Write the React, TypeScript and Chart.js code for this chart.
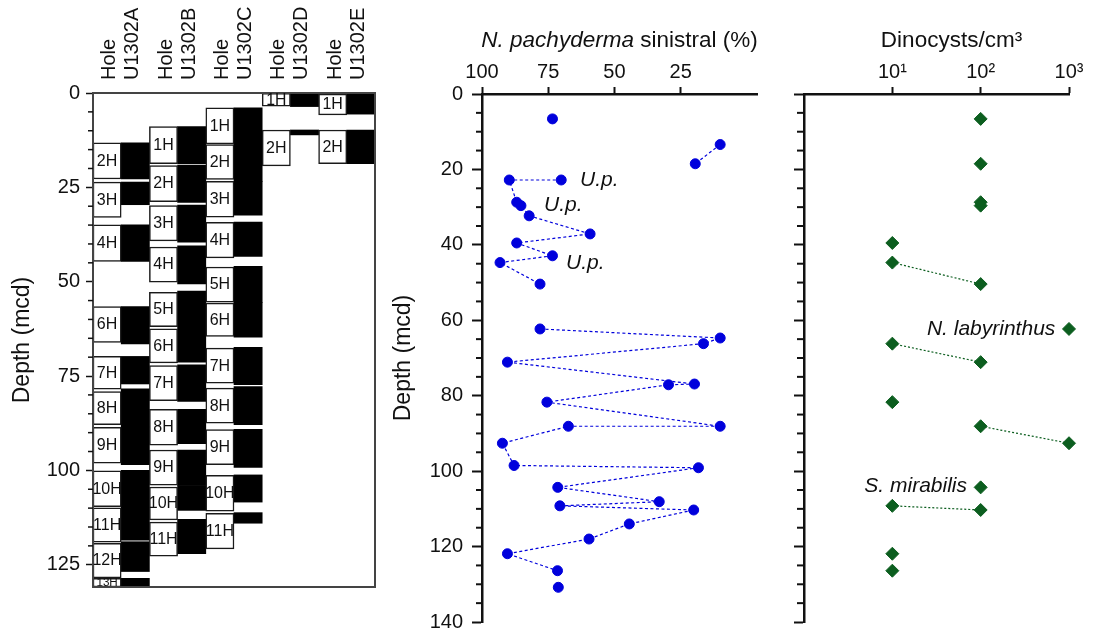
import React, { useEffect, useRef } from 'react';
import { Chart, registerables } from 'chart.js';

Chart.register(...registerables);

const FONT = "'Liberation Sans', Arial, Helvetica, sans-serif";
const INK = '#111111';
const BLUE = '#0000dc';
const GREEN = '#0c5e1f';
const CLEAR = 'rgba(0,0,0,0)';

Chart.defaults.font.family = FONT;
Chart.defaults.color = INK;

// ---------------- Left panel: cored intervals (white) and recovery (black) ----------------
const holeNames = ['U1302A', 'U1302B', 'U1302C', 'U1302D', 'U1302E'];

const coresA = ['2H', '3H', '4H', '6H', '7H', '8H', '9H', '10H', '11H', '12H', '13H'];
const coredTopA = [13.2, 23.6, 34.9, 56.6, 69.8, 79.1, 88.6, 100.1, 109.9, 119.3, 128.6];
const coredBaseA = [22.8, 33.0, 44.6, 66.1, 78.5, 87.9, 98.1, 109.6, 119.0, 128.5, 130.9];
const recTopA = [13.2, 23.6, 34.9, 56.6, 69.8, 78.4, 88.5, 100.0, 109.8, 118.9, 128.6];
const recBaseA = [22.8, 29.6, 44.6, 66.5, 77.1, 88.5, 98.5, 109.8, 118.5, 126.8, 130.9];

const coresB = ['1H', '2H', '3H', '4H', '5H', '6H', '7H', '8H', '9H', '10H', '11H'];
const coredTopB = [8.9, 19.2, 29.8, 40.8, 52.8, 62.5, 72.2, 83.8, 94.6, 104.4, 113.7];
const coredBaseB = [18.7, 28.8, 39.2, 50.1, 61.9, 71.5, 81.5, 93.3, 103.9, 113.1, 122.7];
const recTopB = [8.9, 19.1, 29.7, 40.5, 52.5, 61.7, 72.0, 83.8, 94.6, 104.0, 113.0];
const recBaseB = [18.7, 29.0, 39.5, 50.6, 61.7, 71.3, 81.7, 92.9, 104.0, 110.6, 122.1];

const coresC = ['1H', '2H', '3H', '4H', '5H', '6H', '7H', '8H', '9H', '10H', '11H'];
const coredTopC = [3.9, 13.7, 23.4, 34.3, 46.1, 55.7, 67.6, 78.2, 89.2, 101.3, 111.4];
const coredBaseC = [13.5, 22.9, 32.9, 43.7, 55.4, 64.5, 76.9, 87.5, 98.5, 110.8, 120.8];
const recTopC = [3.9, 13.7, 23.4, 34.2, 45.9, 55.5, 67.4, 77.8, 89.1, 101.2, 111.2];
const recBaseC = [13.7, 23.4, 32.4, 43.3, 55.5, 64.7, 77.3, 87.9, 99.2, 108.4, 114.0];

const coresD = ['1H', '2H'];
const coredTopD = [0.1, 9.8];
const coredBaseD = [3.5, 19.3];
const recTopD = [0.0, 9.8];
const recBaseD = [3.6, 11.1];

const coresE = ['1H', '2H'];
const coredTopE = [0.3, 9.8];
const coredBaseE = [5.8, 18.7];
const recTopE = [0.0, 9.8];
const recBaseE = [5.6, 18.7];

const leftDepthMax = 130.9;

// ---------------- Middle panel: N. pachyderma sinistral (%) ----------------
const npDepth = [6.6, 13.4, 18.5, 22.8, 22.8, 28.7, 29.6, 32.3, 37.1, 39.5, 42.9, 44.7, 50.4,
  62.3, 64.7, 66.2, 71.1, 76.9, 77.1, 81.7, 88.1, 88.1, 92.6, 98.5, 99.1, 104.3, 108.1, 109.2,
  110.3, 114.0, 118.0, 121.9, 126.4, 130.8];
const npPercent = [73.4, 10.1, 19.5, 70.1, 89.7, 86.9, 85.3, 82.2, 59.2, 86.9, 73.4, 93.2, 78.1,
  78.1, 10.1, 16.4, 90.4, 19.8, 29.6, 75.5, 10.1, 67.4, 92.3, 87.9, 18.3, 71.4, 33.1, 70.6,
  20.1, 44.4, 59.6, 90.4, 71.5, 71.2];
const npBreakAfter = [0, 2, 12, 32];
const upNoteText = ['U.p.', 'U.p.', 'U.p.'];
const upNotePercent = [63.0, 76.6, 68.3];
const upNoteDepth = [22.8, 29.4, 44.8];

// ---------------- Right panel: Dinocysts/cm3 ----------------
const dinoDepth = [6.6, 18.5, 28.7, 29.6, 39.5, 44.7, 50.4, 62.3, 66.2, 71.1, 81.7, 88.1, 92.6,
  104.3, 109.2, 110.3, 121.9, 126.4];
const dinoCount = [100, 100, 100, 100, 10, 10, 100, 1000, 10, 100, 10, 100, 1000, 100, 10, 100, 10, 10];
const dinoLinkAfter = [5, 8, 11, 14];
const dinoNoteText = ['N. labyrinthus', 'S. mirabilis'];
const dinoNoteCount = [700, 70];
const dinoNoteDepth = [62.4, 104.1];

const holeCores = [
  { hole: holeNames[0], names: coresA, top: coredTopA, base: coredBaseA, rTop: recTopA, rBase: recBaseA },
  { hole: holeNames[1], names: coresB, top: coredTopB, base: coredBaseB, rTop: recTopB, rBase: recBaseB },
  { hole: holeNames[2], names: coresC, top: coredTopC, base: coredBaseC, rTop: recTopC, rBase: recBaseC },
  { hole: holeNames[3], names: coresD, top: coredTopD, base: coredBaseD, rTop: recTopD, rBase: recBaseD },
  { hole: holeNames[4], names: coresE, top: coredTopE, base: coredBaseE, rTop: recTopE, rBase: recBaseE },
];

const coredData = holeCores.flatMap((h) =>
  h.names.map((n, i) => ({ x: h.hole, y: [h.top[i], h.base[i]], label: n })));
const recoveryData = holeCores.flatMap((h) =>
  h.rTop.map((t, i) => ({ x: h.hole, y: [t, h.rBase[i]] })));

// ---------------- plugins ----------------
function minorTicks(id: string, majorEvery: number, len: number, width: number, color: string) {
  return {
    id,
    afterDraw(chart: any) {
      const s = chart.scales.y;
      const ctx = chart.ctx;
      ctx.save();
      ctx.strokeStyle = color;
      ctx.lineWidth = width;
      const edge = s.right;
      s.ticks.forEach((t: any) => {
        if (Math.abs(t.value % majorEvery) < 1e-9) return;
        const py = s.getPixelForValue(t.value);
        ctx.beginPath();
        ctx.moveTo(edge, py);
        ctx.lineTo(edge - len, py);
        ctx.stroke();
      });
      ctx.restore();
    },
  };
}

const leftFrame = {
  id: 'leftFrame',
  afterDatasetsDraw(chart: any) {
    const { left, right, top, bottom } = chart.chartArea;
    const ctx = chart.ctx;
    ctx.save();
    ctx.strokeStyle = '#444';
    ctx.lineWidth = 2;
    ctx.strokeRect(left, top, right - left, bottom - top);
    ctx.restore();
  },
};

const coreLabels = {
  id: 'coreLabels',
  afterDatasetsDraw(chart: any) {
    const meta = chart.getDatasetMeta(0);
    const ctx = chart.ctx;
    ctx.save();
    ctx.fillStyle = INK;
    ctx.textAlign = 'center';
    ctx.textBaseline = 'middle';
    meta.data.forEach((el: any, i: number) => {
      const { x, y, base } = el.getProps(['x', 'y', 'base'], true);
      const h = Math.abs(base - y);
      const size = Math.min(16, h + 3);
      ctx.font = `${size}px ${FONT}`;
      ctx.fillText(coredData[i].label, x, (y + base) / 2 + 0.5);
    });
    ctx.restore();
  },
};

const holeHeaders = {
  id: 'holeHeaders',
  afterDraw(chart: any) {
    const ctx = chart.ctx;
    const xs = chart.scales.x;
    ctx.save();
    ctx.font = `20px ${FONT}`;
    ctx.fillStyle = INK;
    ctx.textAlign = 'left';
    ctx.textBaseline = 'middle';
    holeNames.forEach((name, i) => {
      const px = xs.getPixelForValue(i);
      const lines: [string, number][] = [['Hole', -11.5], [name, 11.5]];
      lines.forEach(([t, dx]) => {
        ctx.save();
        ctx.translate(px + dx, 80);
        ctx.rotate(-Math.PI / 2);
        ctx.fillText(t, 0, 0);
        ctx.restore();
      });
    });
    ctx.restore();
  },
};

function mixedTitle(id: string, parts: [string, boolean][], size: number, dx: number, baseline: number) {
  return {
    id,
    afterDraw(chart: any) {
      const ctx = chart.ctx;
      const { left, right } = chart.chartArea;
      ctx.save();
      ctx.fillStyle = INK;
      ctx.textAlign = 'left';
      ctx.textBaseline = 'alphabetic';
      const fontOf = (it: boolean) => `${it ? 'italic ' : ''}${size}px ${FONT}`;
      let total = 0;
      const widths = parts.map(([t, it]) => {
        ctx.font = fontOf(it);
        const w = ctx.measureText(t).width;
        total += w;
        return w;
      });
      let x = (left + right) / 2 + dx - total / 2;
      parts.forEach(([t, it], i) => {
        ctx.font = fontOf(it);
        ctx.fillText(t, x, baseline);
        x += widths[i];
      });
      ctx.restore();
    },
  };
}

function notes(id: string, texts: string[], xs: number[], ys: number[], align: string) {
  return {
    id,
    afterDatasetsDraw(chart: any) {
      const ctx = chart.ctx;
      const sx = chart.scales.x;
      const sy = chart.scales.y;
      ctx.save();
      ctx.fillStyle = INK;
      ctx.font = `italic 21px ${FONT}`;
      ctx.textAlign = align;
      ctx.textBaseline = 'middle';
      texts.forEach((t, i) => {
        ctx.fillText(t, sx.getPixelForValue(xs[i]), sy.getPixelForValue(ys[i]));
      });
      ctx.restore();
    },
  };
}

const majorTickColor = (every: number) => (c: any) =>
  c.tick && Math.abs(c.tick.value % every) < 1e-9 ? INK : CLEAR;

const fixWidth = (w: number) => (s: any) => {
  s.width = w;
  s.paddingTop = 0;
  s.paddingBottom = 0;
};
const fixHeight = (h: number) => (s: any) => {
  s.height = h;
};

// ---------------- configs ----------------
function leftConfig(): any {
  return {
    type: 'bar',
    data: {
      labels: holeNames,
      datasets: [
        {
          label: 'Cored interval',
          data: coredData,
          backgroundColor: '#ffffff',
          borderColor: '#1a1a1a',
          borderWidth: 1.5,
          borderSkipped: false,
          categoryPercentage: 1,
          barPercentage: 1,
        },
        {
          label: 'Recovery',
          data: recoveryData,
          backgroundColor: '#000000',
          borderWidth: 0,
          categoryPercentage: 1,
          barPercentage: 1,
        },
      ],
    },
    options: {
      responsive: false,
      animation: false,
      layout: { padding: { top: 93, right: 5, bottom: 47, left: 0 } },
      plugins: { legend: { display: false }, tooltip: { enabled: false } },
      scales: {
        x: { type: 'category', display: false, offset: true },
        y: {
          type: 'linear',
          min: 0,
          max: leftDepthMax,
          reverse: true,
          afterBuildTicks: (s: any) => { s.ticks = s.ticks.filter((t: any) => Math.abs(t.value % 5) < 1e-9); },
          afterFit: fixWidth(93),
          ticks: {
            stepSize: 5,
            autoSkip: false,
            padding: 6,
            color: INK,
            font: { size: 20, family: FONT },
            callback: (v: any) => (Math.abs(Number(v) % 25) < 1e-9 ? String(v) : ''),
          },
          grid: {
            drawOnChartArea: false,
            tickLength: 7,
            tickWidth: 1.5,
            tickColor: majorTickColor(25),
          },
          border: { display: false },
          title: {
            display: true,
            text: 'Depth (mcd)',
            color: INK,
            font: { size: 23, family: FONT },
            padding: { top: 9, bottom: 0 },
          },
        },
      },
    },
    plugins: [leftFrame, coreLabels, holeHeaders, minorTicks('leftMinor', 25, 5, 1.5, INK)],
  };
}

function midConfig(): any {
  return {
    type: 'line',
    data: {
      datasets: [
        {
          label: 'N. pachyderma sinistral (%)',
          data: npDepth.map((d, i) => ({ x: npPercent[i], y: d })),
          borderColor: BLUE,
          borderWidth: 1.2,
          borderDash: [3, 2.5],
          pointRadius: 5,
          pointBorderWidth: 1,
          pointBackgroundColor: BLUE,
          pointBorderColor: BLUE,
          fill: false,
          tension: 0,
          clip: false,
          segment: {
            borderColor: (c: any) => (npBreakAfter.includes(c.p0DataIndex) ? CLEAR : BLUE),
          },
        },
      ],
    },
    options: {
      responsive: false,
      animation: false,
      layout: { padding: { top: 0, right: 23, bottom: 12, left: 0 } },
      plugins: { legend: { display: false }, tooltip: { enabled: false } },
      scales: {
        x: {
          type: 'linear',
          position: 'top',
          min: -3.8,
          max: 100,
          reverse: true,
          afterBuildTicks: (s: any) => { s.ticks = s.ticks.filter((t: any) => Math.abs(t.value % 25) < 1e-9); },
          afterFit: fixHeight(94),
          ticks: { stepSize: 25, padding: 3, color: INK, font: { size: 20, family: FONT } },
          grid: { drawOnChartArea: false, tickLength: 7, tickWidth: 2, tickColor: INK },
          border: { display: true, width: 2.5, color: INK },
        },
        y: {
          type: 'linear',
          min: 0,
          max: 140,
          reverse: true,
          afterBuildTicks: (s: any) => { s.ticks = s.ticks.filter((t: any) => Math.abs(t.value % 5) < 1e-9); },
          afterFit: fixWidth(102),
          ticks: {
            stepSize: 5,
            autoSkip: false,
            padding: 9,
            color: INK,
            font: { size: 20, family: FONT },
            callback: (v: any) => (Math.abs(Number(v) % 20) < 1e-9 ? String(v) : ''),
          },
          grid: { drawOnChartArea: false, tickLength: 10, tickWidth: 2, tickColor: majorTickColor(20) },
          border: { display: true, width: 2.5, color: INK },
          title: {
            display: true,
            text: 'Depth (mcd)',
            color: INK,
            font: { size: 23, family: FONT },
            padding: { top: 10, bottom: 0 },
          },
        },
      },
    },
    plugins: [
      minorTicks('midMinor', 20, 6, 2, INK),
      mixedTitle('npTitle', [['N. pachyderma', true], [' sinistral (%)', false]], 22.5, 0, 47),
      notes('upNotes', upNoteText, upNotePercent, upNoteDepth, 'left'),
    ],
  };
}

const supDigits: Record<number, string> = { 0: '⁰', 1: '¹', 2: '²', 3: '³' };

function rightConfig(): any {
  return {
    type: 'line',
    data: {
      datasets: [
        {
          label: 'Dinocysts/cm³',
          data: dinoDepth.map((d, i) => ({ x: dinoCount[i], y: d })),
          borderColor: GREEN,
          borderWidth: 1.2,
          borderDash: [2, 2],
          pointStyle: 'rectRot',
          pointRadius: 6.5,
          pointBorderWidth: 1,
          pointBackgroundColor: GREEN,
          pointBorderColor: GREEN,
          fill: false,
          tension: 0,
          clip: false,
          segment: {
            borderColor: (c: any) => (dinoLinkAfter.includes(c.p0DataIndex) ? GREEN : CLEAR),
          },
        },
      ],
    },
    options: {
      responsive: false,
      animation: false,
      layout: { padding: { top: 0, right: 27, bottom: 12, left: 0 } },
      plugins: { legend: { display: false }, tooltip: { enabled: false } },
      scales: {
        x: {
          type: 'logarithmic',
          position: 'top',
          min: 1,
          max: 1000,
          afterBuildTicks: (s: any) => {
            s.ticks = s.ticks.filter((t: any) => {
              const l = Math.log10(t.value);
              return t.value > 1 && Math.abs(Math.round(l) - l) < 1e-9;
            });
          },
          afterFit: fixHeight(94),
          ticks: {
            padding: 3,
            color: INK,
            autoSkip: false,
            font: { size: 20, family: FONT },
            callback: (v: any) => '10' + (supDigits[Math.round(Math.log10(Number(v)))] || ''),
          },
          grid: { drawOnChartArea: false, tickLength: 7, tickWidth: 2, tickColor: INK },
          border: { display: true, width: 2.5, color: INK },
        },
        y: {
          type: 'linear',
          min: 0,
          max: 140,
          reverse: true,
          afterBuildTicks: (s: any) => { s.ticks = s.ticks.filter((t: any) => Math.abs(t.value % 5) < 1e-9); },
          afterFit: fixWidth(24),
          ticks: { stepSize: 5, autoSkip: false, callback: () => '' },
          grid: { drawOnChartArea: false, tickLength: 10, tickWidth: 2, tickColor: majorTickColor(20) },
          border: { display: true, width: 2.5, color: INK },
        },
      },
    },
    plugins: [
      minorTicks('rightMinor', 20, 7, 2, INK),
      mixedTitle('dinoTitle', [['Dinocysts/cm³', false]], 22.5, 15, 47),
      notes('dinoNotes', dinoNoteText, dinoNoteCount, dinoNoteDepth, 'right'),
    ],
  };
}

export default function App() {
  const leftRef = useRef<HTMLCanvasElement>(null);
  const midRef = useRef<HTMLCanvasElement>(null);
  const rightRef = useRef<HTMLCanvasElement>(null);

  useEffect(() => {
    const charts = [
      new Chart(leftRef.current as HTMLCanvasElement, leftConfig()),
      new Chart(midRef.current as HTMLCanvasElement, midConfig()),
      new Chart(rightRef.current as HTMLCanvasElement, rightConfig()),
    ];
    return () => charts.forEach((c) => c.destroy());
  }, []);

  return (
    <div style={{ position: 'absolute', left: 0, top: 0, width: 1096, height: 634, background: '#ffffff' }}>
      <canvas ref={leftRef} width={380} height={634} style={{ position: 'absolute', left: 0, top: 0 }} />
      <canvas ref={midRef} width={400} height={634} style={{ position: 'absolute', left: 380, top: 0 }} />
      <canvas ref={rightRef} width={316} height={634} style={{ position: 'absolute', left: 780, top: 0 }} />
    </div>
  );
}
